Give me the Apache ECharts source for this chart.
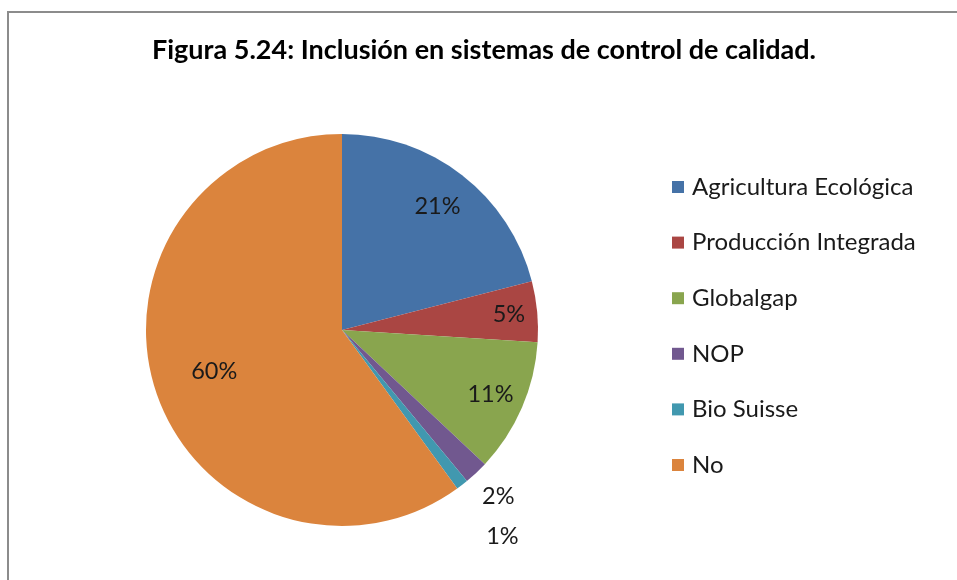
<!DOCTYPE html>
<html>
<head>
<meta charset="utf-8">
<script src="https://cdn.jsdelivr.net/npm/echarts@6/dist/echarts.min.js"></script>
<style>
    html, body { margin: 0; padding: 0; background: #fff; }
    #chart { width: 957px; height: 580px; }
</style>
</head>
<body>
<div id="chart"></div>
<script>
    // data
    const categories = ['Agricultura Ecológica', 'Producción Integrada', 'Globalgap', 'NOP', 'Bio Suisse', 'No']
    const values = [21, 5, 11, 2, 1, 60]
    const colors = ['#4572A7', '#AA4643', '#89A54E', '#71588F', '#4198AF', '#DB843D']
    // where each percent label sits, as a share of the radius
    const labelRadius = [0.78, 0.84, 0.81, 1.15, 1.32, 0.67]

    const R = 196
    const total = values.reduce((a, b) => a + b, 0)

    // inside labels sit at R/2; push each one along its slice's middle angle
    let cum = 0
    const pieData = values.map((v, i) => {
        const mid = (90 - 360 * (cum + v / 2) / total) * Math.PI / 180
        cum += v
        const d = (labelRadius[i] - 0.5) * R
        return {
            name: categories[i],
            value: v,
            itemStyle: { color: colors[i] },
            label: { offset: [d * Math.cos(mid), -d * Math.sin(mid)] }
        }
    })

    const chart = echarts.init(document.getElementById('chart'), null, { renderer: 'canvas' })
    chart.setOption({
        animation: false,
        backgroundColor: '#fff',
        graphic: [{
            type: 'rect',
            shape: { x: 8, y: 12, width: 1000, height: 1000 },
            style: { fill: 'none', stroke: '#8c8c8c', lineWidth: 2 },
            z: -1
        }],
        title: {
            text: 'Figura 5.24: Inclusión en sistemas de control de calidad.',
            left: 484,
            top: 37,
            textAlign: 'center',
            padding: 0,
            textStyle: {
                fontFamily: 'Lato',
                fontWeight: 'bold',
                fontSize: 27,
                lineHeight: 27,
                color: '#000'
            }
        },
        legend: {
            orient: 'vertical',
            left: 667,
            top: 170,
            icon: 'rect',
            itemWidth: 12,
            itemHeight: 12,
            itemGap: 31.6,
            selectedMode: false,
            data: categories,
            textStyle: {
                fontFamily: 'Lato',
                fontSize: 24,
                lineHeight: 24,
                color: '#1a1a1a',
                padding: [0, 0, 0, 3]
            }
        },
        series: [{
            type: 'pie',
            center: [342, 330],
            radius: [0, R],
            startAngle: 90,
            clockwise: true,
            avoidLabelOverlap: false,
            label: {
                show: true,
                position: 'inside',
                formatter: '{d}%',
                fontFamily: 'Lato',
                fontSize: 23.5,
                color: '#1a1a1a'
            },
            labelLine: { show: false },
            itemStyle: { borderWidth: 0 },
            emphasis: { disabled: true },
            data: pieData
        }]
    })
</script>
</body>
</html>
